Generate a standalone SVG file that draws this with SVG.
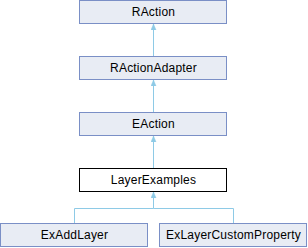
<svg xmlns="http://www.w3.org/2000/svg" width="308" height="248" viewBox="0 0 308 248">
<defs>
<style>
.n rect{fill:#e8ecf4;stroke:#7a8fc6;stroke-width:1}
.n.cur rect{fill:#ffffff;stroke:#000000}
.n text{font-family:"Liberation Sans",Arial,sans-serif;font-size:12px;letter-spacing:0.2px;fill:#000;text-anchor:middle}
.e{fill:none;stroke:#8ecae6;stroke-width:1}
</style>
<marker id="ah" markerWidth="6" markerHeight="6" viewBox="0 0 6 6" refX="6" refY="3" orient="auto" markerUnits="userSpaceOnUse">
<path d="M0,0.5 L6,3 L0,5.5 Z" fill="#8ecae6" stroke="#8ecae6" stroke-width="0.5"/>
</marker>
</defs>
<rect width="308" height="248" fill="#ffffff"/>
<g id="connectors">
<path class="e" d="M153.5,56.5 V24" marker-end="url(#ah)"/>
<path class="e" d="M153.5,112.5 V80" marker-end="url(#ah)"/>
<path class="e" d="M153.5,168.5 V136" marker-end="url(#ah)"/>
<path class="e" d="M74.5,223.5 V208.5 H153.5 V192" marker-end="url(#ah)"/>
<path class="e" d="M233.5,223.5 V208.5 H153.5"/>
</g>
<g id="RAction" class="n"><rect x="79.5" y="0.5" width="147" height="23"/><text x="153.5" y="15.5">RAction</text></g>
<g id="RActionAdapter" class="n"><rect x="79.5" y="56.5" width="147" height="23"/><text x="153.5" y="71.5">RActionAdapter</text></g>
<g id="EAction" class="n"><rect x="79.5" y="112.5" width="147" height="23"/><text x="153.5" y="127.5">EAction</text></g>
<g id="LayerExamples" class="n cur"><rect x="79.5" y="168.5" width="147" height="23"/><text x="153.5" y="183.5">LayerExamples</text></g>
<g id="ExAddLayer" class="n"><rect x="0.5" y="223.5" width="147" height="23"/><text x="74.5" y="238.5">ExAddLayer</text></g>
<g id="ExLayerCustomProperty" class="n"><rect x="159.5" y="223.5" width="147" height="23"/><text x="233.5" y="238.5">ExLayerCustomProperty</text></g>
</svg>
